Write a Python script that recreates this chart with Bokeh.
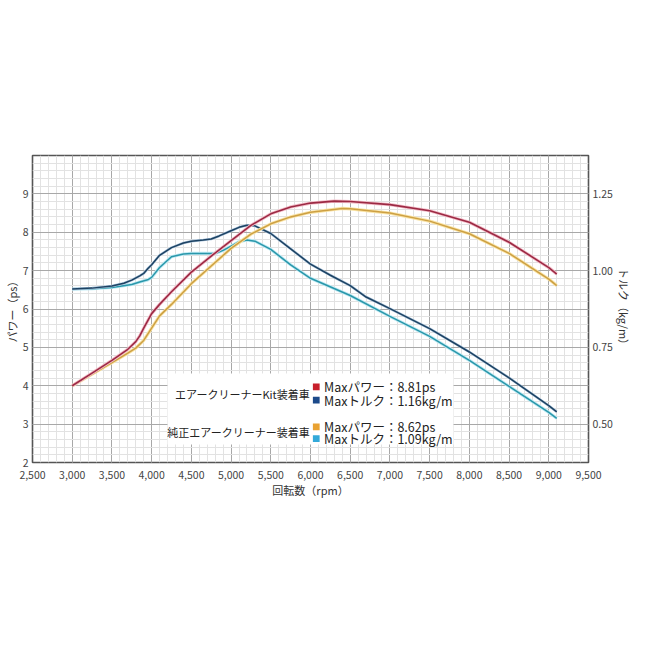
from bokeh.plotting import figure
from bokeh.models import Range1d, LinearAxis, FixedTicker, NumeralTickFormatter, Label, BoxAnnotation
from bokeh.embed import file_html
from bokeh.resources import INLINE

# ---- dados ----
# Kit: potência (ps)
rpm_kit_power = [3000, 3250, 3500, 3700, 3800, 3850, 3900, 4000, 4100, 4250, 4500, 4750,
                 5000, 5250, 5500, 5750, 6000, 6300, 6500, 7000, 7500, 8000, 8500, 9000, 9100]
kit_power = [4.00, 4.33, 4.66, 4.95, 5.15, 5.30, 5.50, 5.88, 6.12, 6.45, 6.96, 7.38,
             7.78, 8.18, 8.48, 8.66, 8.76, 8.81, 8.80, 8.72, 8.56, 8.26, 7.74, 7.08, 6.91]

# Original: potência (ps)
rpm_std_power = [3000, 3250, 3500, 3700, 3800, 3900, 4000, 4100, 4250, 4500, 4750, 5000,
                 5250, 5500, 5750, 6000, 6400, 6500, 7000, 7500, 8000, 8500, 9000, 9100]
std_power = [4.00, 4.30, 4.60, 4.85, 4.98, 5.18, 5.50, 5.82, 6.12, 6.66, 7.12, 7.58,
             7.95, 8.22, 8.40, 8.52, 8.62, 8.61, 8.50, 8.29, 7.96, 7.45, 6.78, 6.61]

# Kit: torque (kg/m)
rpm_kit_torque = [3000, 3250, 3500, 3650, 3750, 3850, 3900, 3950, 4000, 4100, 4250, 4400,
                  4500, 4650, 4750, 4850, 5000, 5100, 5200, 5300, 5500, 5750, 6000, 6250,
                  6500, 6700, 7000, 7500, 8000, 8500, 9000, 9100]
kit_torque = [0.940, 0.943, 0.950, 0.959, 0.969, 0.983, 0.991, 1.006, 1.019, 1.050, 1.075, 1.090,
              1.096, 1.100, 1.103, 1.113, 1.130, 1.141, 1.148, 1.146, 1.121, 1.071, 1.021, 0.985,
              0.951, 0.914, 0.876, 0.811, 0.735, 0.651, 0.560, 0.540]

# Original: torque (kg/m)
rpm_std_torque = [3000, 3250, 3500, 3750, 3850, 3950, 4000, 4100, 4250, 4400, 4500, 4800,
                  4900, 5000, 5100, 5200, 5300, 5500, 5750, 6000, 6500, 7000, 7500, 8000,
                  8500, 9000, 9100]
std_torque = [0.940, 0.941, 0.945, 0.955, 0.963, 0.970, 0.978, 1.010, 1.045, 1.054, 1.056, 1.056,
              1.066, 1.080, 1.094, 1.100, 1.096, 1.069, 1.019, 0.975, 0.919, 0.851, 0.786, 0.708,
              0.623, 0.538, 0.519]

x_ticks = list(range(2500, 9501, 500))
power_ticks = [2, 3, 4, 5, 6, 7, 8, 9]
torque_ticks = [0.50, 0.75, 1.00, 1.25]

group_labels = ["エアークリーナーKit装着車", "純正エアークリーナー装着車"]
legend_texts = ["Maxパワー：8.81ps", "Maxトルク：1.16kg/m", "Maxパワー：8.62ps", "Maxトルク：1.09kg/m"]
swatch_colors = ["#c8202c", "#1c4a8a", "#e9a232", "#33a9d9"]

FONT = "Noto Sans CJK JP"

p = figure(width=634, height=634, output_backend="svg", toolbar_location=None,
           x_range=Range1d(2500, 9500), y_range=Range1d(2, 10),
           min_border_left=30, min_border_right=40, min_border_top=155, min_border_bottom=172)
p.background_fill_color = "white"
p.border_fill_color = "white"
p.outline_line_color = "#555555"
p.outline_line_width = 1.6

p.extra_y_ranges = {"torque": Range1d(0.375, 1.375)}

# eixos
p.xaxis.ticker = FixedTicker(ticks=x_ticks, minor_ticks=list(range(2500, 9501, 100)))
p.xaxis.formatter = NumeralTickFormatter(format="0,0")
p.xaxis.axis_label = "回転数（rpm）"
p.yaxis.ticker = FixedTicker(ticks=power_ticks, minor_ticks=[2 + 0.2 * i for i in range(41)])
p.yaxis.axis_label = "パワー（ps）"

right = LinearAxis(y_range_name="torque", axis_label="トルク（kg/m）",
                   ticker=FixedTicker(ticks=torque_ticks),
                   formatter=NumeralTickFormatter(format="0.00"))
p.add_layout(right, "right")

for ax in p.xaxis + p.yaxis:
    ax.axis_line_color = None
    ax.major_tick_line_color = None
    ax.minor_tick_line_color = None
    ax.major_tick_out = 0
    ax.minor_tick_out = 0
    ax.major_label_text_font = FONT
    ax.major_label_text_font_size = "10.5px"
    ax.major_label_text_color = "#444444"
    ax.axis_label_text_font = FONT
    ax.axis_label_text_font_size = "11px"
    ax.axis_label_text_font_style = "normal"
    ax.axis_label_text_color = "#333333"
    ax.axis_label_standoff = 0
p.xaxis.major_label_standoff = 8
p.yaxis[0].major_label_standoff = 4
right.major_label_standoff = 4

# grade
p.grid.grid_line_color = "#a8a8a8"
p.grid.grid_line_width = 1
p.grid.minor_grid_line_color = "#e2e2e2"
p.grid.minor_grid_line_width = 1

# curvas (halo claro + linha escura)
p.line(rpm_std_torque, std_torque, y_range_name="torque", line_color="#bde9f3", line_width=3.2)
p.line(rpm_std_torque, std_torque, y_range_name="torque", line_color="#2a97aa", line_width=1.5)
p.line(rpm_kit_torque, kit_torque, y_range_name="torque", line_color="#aac4dc", line_width=2.6)
p.line(rpm_kit_torque, kit_torque, y_range_name="torque", line_color="#1d4262", line_width=1.5)
p.line(rpm_std_power, std_power, line_color="#f9e3a4", line_width=3.2)
p.line(rpm_std_power, std_power, line_color="#cda044", line_width=1.5)
p.line(rpm_kit_power, kit_power, line_color="#f3bcc8", line_width=3.2)
p.line(rpm_kit_power, kit_power, line_color="#9c2a44", line_width=1.6)

# legenda
p.add_layout(BoxAnnotation(left=4200, right=7800, bottom=2.47, top=4.32,
                           fill_color="white", fill_alpha=1.0, line_color=None))

group_y = [3.78, 2.79]
for txt, gy in zip(group_labels, group_y):
    p.add_layout(Label(x=5990, y=gy, text=txt, text_align="right", text_baseline="middle",
                       text_font=FONT, text_font_size="11px", text_color="#222222"))

swatch_y = [3.97, 3.625, 2.93, 2.625]
for txt, col, sy in zip(legend_texts, swatch_colors, swatch_y):
    p.add_layout(BoxAnnotation(left=6030, right=6115, bottom=sy - 0.088, top=sy + 0.088,
                               fill_color=col, fill_alpha=1.0, line_color=None))
    p.add_layout(Label(x=6170, y=sy, text=txt, text_align="left", text_baseline="middle",
                       text_font=FONT, text_font_size="12.5px", text_color="#222222"))

open("out.html", "w").write(file_html(p, INLINE))
